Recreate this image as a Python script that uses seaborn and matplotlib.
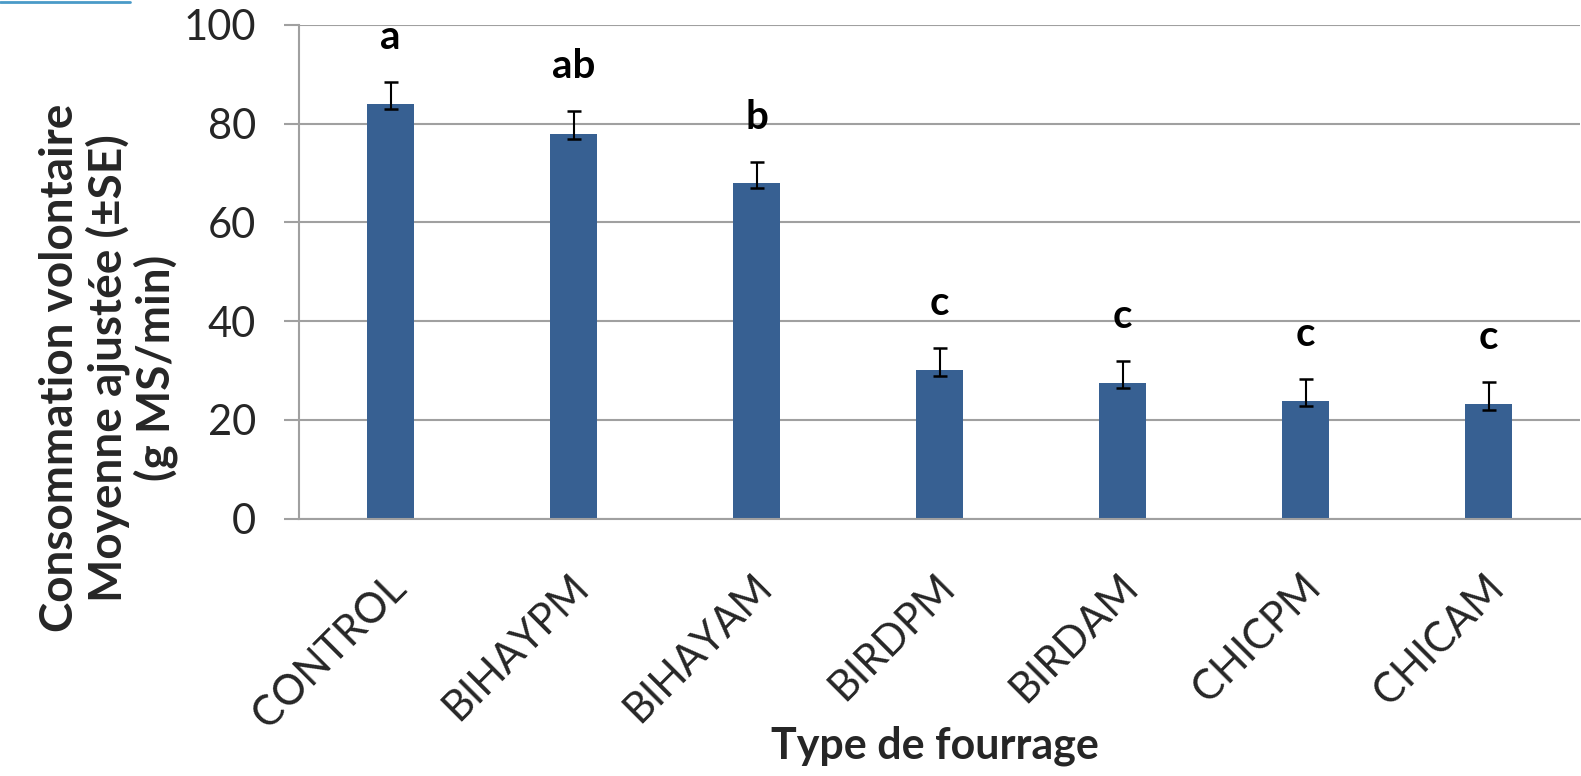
import matplotlib
matplotlib.use("Agg")
import matplotlib.pyplot as plt
import matplotlib.transforms as mtrans
import seaborn as sns
import pandas as pd
import numpy as np
from matplotlib.lines import Line2D

categories = ["CONTROL", "BIHAYPM", "BIHAYAM", "BIRDPM", "BIRDAM", "CHICPM", "CHICAM"]
means = [84.0, 77.9, 67.9, 30.1, 27.4, 23.8, 23.2]
err_low = [83.0, 77.0, 66.9, 28.9, 26.4, 22.8, 22.0]
err_high = [88.5, 82.6, 72.2, 34.5, 32.0, 28.3, 27.6]
letters = ["a", "ab", "b", "c", "c", "c", "c"]
yticks = [0, 20, 40, 60, 80, 100]

sns.set_theme(style="white")
plt.rcParams["font.family"] = ["Lato", "DejaVu Sans"]

df = pd.DataFrame({"cat": categories, "val": means})

fig = plt.figure(figsize=(15.81, 7.76), dpi=100)
ax = fig.add_axes([299 / 1581, 1 - 518.5 / 776, (1580 - 299) / 1581, (518.5 - 25) / 776])

sns.barplot(data=df, x="cat", y="val", color="#376092", width=0.257, ax=ax,
            saturation=1, errorbar=None)
for p in ax.patches:
    p.set_edgecolor("none")

xs = np.arange(len(categories))
m = np.array(means)
yerr = np.vstack([m - np.array(err_low), np.array(err_high) - m])
ax.errorbar(xs, m, yerr=yerr, fmt="none", ecolor="black", elinewidth=1.5,
            capsize=5, capthick=1.8, zorder=5)

for x, top, lab in zip(xs, err_high, letters):
    ax.annotate(lab, (x, top), xytext=(0, 32), textcoords="offset points",
                ha="center", va="center", fontsize=29, fontweight="bold", color="black")

ax.set_ylim(0, 100)
ax.set_xlim(-0.5, len(categories) - 0.5)
ax.set_yticks(yticks)
ax.set_yticklabels([str(v) for v in yticks], fontsize=30)
ax.yaxis.grid(True, color="#a0a0a0", linewidth=1.5)
ax.set_axisbelow(True)
ax.tick_params(axis="y", length=11, width=1.5, color="#a0a0a0", pad=20, left=True)
ax.tick_params(axis="x", length=0, pad=45)
ax.set_xticks(xs)
ax.set_xticklabels(categories, fontsize=30, rotation=45, ha="right", va="center",
                   rotation_mode="anchor")
shift = mtrans.ScaledTranslation(9 / 100, 0, fig.dpi_scale_trans)
for lbl in ax.get_xticklabels():
    lbl.set_transform(lbl.get_transform() + shift)

for s in ["top", "right"]:
    ax.spines[s].set_visible(False)
for s in ["left", "bottom"]:
    ax.spines[s].set_color("#a0a0a0")
    ax.spines[s].set_linewidth(1.5)

ax.set_xlabel("Type de fourrage", fontsize=31, fontweight="bold")
ax.set_ylabel("Consommation volontaire\nMoyenne ajustée (±SE)\n(g MS/min)", fontsize=33,
              fontweight="bold", linespacing=1.1)
ax.xaxis.set_label_coords((935 - 299) / (1580 - 299), (518.5 - 726) / (518.5 - 25))
ax.yaxis.set_label_coords((178 - 299) / (1580 - 299), (518.5 - 368) / (518.5 - 25))

fig.add_artist(Line2D([0, 130 / 1581], [1 - 1.5 / 776, 1 - 1.5 / 776], color="#4a9ac8",
                      linewidth=2, transform=fig.transFigure))

fig.savefig("out.png", dpi=100)
